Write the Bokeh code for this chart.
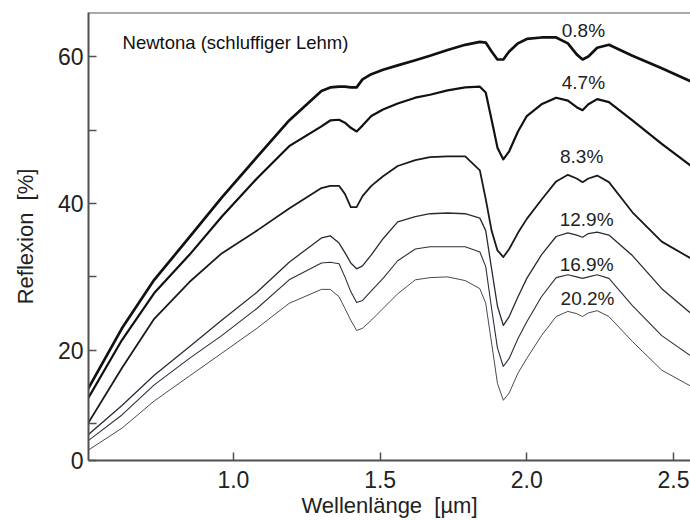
from bokeh.plotting import figure
from bokeh.models import FixedTicker, Span, Range1d
from bokeh.core.properties import value
from bokeh.embed import file_html
from bokeh.resources import INLINE

# Wavelength grid (µm) and reflectance (%) for six soil-moisture levels
wavelength = [0.505, 0.62, 0.73, 0.85, 0.96, 1.08, 1.19, 1.30, 1.33, 1.36,
              1.38, 1.40, 1.42, 1.44, 1.47, 1.51, 1.56, 1.62, 1.67, 1.73,
              1.79, 1.84, 1.86, 1.88, 1.90, 1.92, 1.94, 1.97, 2.00, 2.05,
              2.10, 2.14, 2.17, 2.19, 2.21, 2.24, 2.28, 2.36, 2.46, 2.56]

r_08 = [14.8, 23.0, 29.6, 35.4, 40.8, 46.3, 51.3, 55.3, 55.8, 55.9,
        55.9, 55.8, 55.8, 56.9, 57.6, 58.2, 58.8, 59.5, 60.1, 60.9,
        61.6, 62.0, 61.9, 60.7, 59.6, 59.6, 60.7, 61.8, 62.4, 62.6,
        62.6, 61.8, 60.3, 59.6, 60.0, 61.2, 61.6, 60.1, 58.4, 56.6]
r_47 = [13.5, 21.4, 27.8, 33.0, 38.2, 43.4, 47.8, 50.5, 51.3, 51.4,
        51.0, 50.3, 49.8, 50.6, 51.9, 52.8, 53.6, 54.4, 54.8, 55.4,
        55.8, 55.9, 55.1, 51.4, 47.6, 46.0, 47.1, 49.8, 51.9, 53.5,
        54.4, 54.0, 53.1, 52.7, 53.5, 54.2, 53.8, 51.3, 48.1, 45.1]
r_83 = [10.1, 17.6, 24.3, 29.3, 33.2, 36.3, 39.3, 42.1, 42.4, 42.4,
        41.3, 39.5, 39.5, 41.0, 42.4, 43.7, 45.1, 45.9, 46.3, 46.4,
        46.4, 44.5, 40.6, 36.3, 33.6, 32.7, 33.8, 36.0, 37.9, 40.5,
        43.0, 43.9, 43.4, 42.9, 43.4, 43.8, 42.9, 38.8, 34.8, 32.5]
r_129 = [8.5, 12.5, 16.6, 20.5, 24.1, 27.9, 32.0, 35.3, 35.6, 34.6,
         33.3, 31.9, 31.1, 31.5, 33.0, 35.2, 37.5, 38.2, 38.6, 38.7,
         38.6, 38.0, 36.3, 31.1, 26.0, 23.4, 24.6, 27.3, 29.8, 33.0,
         35.5, 36.0, 35.7, 35.4, 35.9, 36.1, 35.7, 32.9, 28.4, 25.0]
r_169 = [7.7, 11.2, 15.3, 18.9, 22.0, 25.7, 29.6, 31.9, 32.0, 31.8,
         30.0, 28.0, 26.5, 26.8, 28.1, 29.8, 32.2, 33.8, 34.1, 34.1,
         34.1, 33.4, 31.4, 25.7, 20.3, 17.8, 18.9, 21.6, 23.9, 27.3,
         29.9, 30.3, 30.0, 29.8, 30.0, 30.3, 29.8, 26.1, 22.0, 19.2]
r_202 = [6.4, 9.4, 13.1, 16.5, 19.6, 23.0, 26.4, 28.3, 28.3, 27.3,
         25.7, 24.1, 22.7, 23.0, 24.1, 25.7, 27.7, 29.6, 29.9, 30.0,
         29.5, 28.4, 26.4, 21.0, 15.5, 13.2, 14.2, 16.9, 18.9, 22.0,
         24.6, 25.3, 25.0, 24.6, 25.1, 25.4, 24.6, 21.2, 17.3, 15.1]

series = [r_08, r_47, r_83, r_129, r_169, r_202]
moisture_labels = ["0.8%", "4.7%", "8.3%", "12.9%", "16.9%", "20.2%"]

x_ticks = [1.0, 1.5, 2.0, 2.5]
x_tick_labels = ["1.0", "1.5", "2.0", "2.5"]
# the original axis is broken: its bottom (at ~5 on the scale) is labelled "0"
y_ticks = [5, 20, 40, 60]
y_tick_labels = ["0", "20", "40", "60"]
y_minor_ticks = [10, 30, 50]

# styling / placement (not data)
line_widths = [2.7, 2.2, 1.8, 1.3, 1.1, 0.9]
line_colors = ["#111111", "#111111", "#1a1a1a", "#2a2a36", "#2e2e3c", "#34343f"]
label_x = [2.193, 2.193, 2.187, 2.204, 2.204, 2.207]
label_y = [63.5, 56.5, 46.4, 37.8, 31.7, 27.0]

FONT = "Liberation Sans"

p = figure(width=690, height=520,
           x_range=Range1d(0.506, 2.558), y_range=Range1d(5, 66),
           output_backend="svg", toolbar_location=None,
           min_border_left=88, min_border_right=0,
           min_border_top=12, min_border_bottom=50)
p.outline_line_color = None
p.grid.visible = False
p.background_fill_color = "white"
p.border_fill_color = "white"

for ys, lw, lc in zip(series, line_widths, line_colors):
    p.line(wavelength, ys, line_width=lw, line_color=lc, line_join="round")

p.text(x=label_x, y=label_y, text=moisture_labels,
       text_font=value(FONT), text_font_size="19px",
       text_align="center", text_baseline="middle", text_color="#222222")

p.text(x=[0.622], y=[61.9], text=["Newtona (schluffiger Lehm)"],
       text_font=value(FONT), text_font_size="18.5px",
       text_align="left", text_baseline="middle", text_color="#111111")

p.add_layout(Span(location=66, dimension="width", line_color="#555555", line_width=2))

ax = p.xaxis[0]
ax.ticker = FixedTicker(ticks=x_ticks)
ax.major_label_overrides = dict(zip(x_ticks, x_tick_labels))
ax.major_tick_in = 8
ax.major_tick_out = 0
ax.minor_tick_in = 0
ax.minor_tick_out = 0
ax.major_label_standoff = 10
ax.axis_label = "Wellenlänge \u00a0[µm]"
ax.axis_label_standoff = 2

ay = p.yaxis[0]
ay.ticker = FixedTicker(ticks=y_ticks, minor_ticks=y_minor_ticks)
ay.major_label_overrides = dict(zip(y_ticks, y_tick_labels))
ay.major_tick_in = 8
ay.major_tick_out = 0
ay.minor_tick_in = 8
ay.minor_tick_out = 0
ay.major_label_standoff = 5
ay.axis_label = "Reflexion \u00a0[%]"
ay.axis_label_standoff = 17

for a in (ax, ay):
    a.axis_line_color = "#505050"
    a.axis_line_width = 2
    a.major_tick_line_color = "#505050"
    a.major_tick_line_width = 1.5
    a.minor_tick_line_color = "#505050"
    a.minor_tick_line_width = 1.5
    a.major_label_text_font = FONT
    a.major_label_text_font_size = "23px"
    a.major_label_text_color = "#222222"
    a.axis_label_text_font = FONT
    a.axis_label_text_font_size = "22px"
    a.axis_label_text_font_style = "normal"
    a.axis_label_text_color = "#222222"

open("out.html", "w").write(file_html(p, INLINE))
